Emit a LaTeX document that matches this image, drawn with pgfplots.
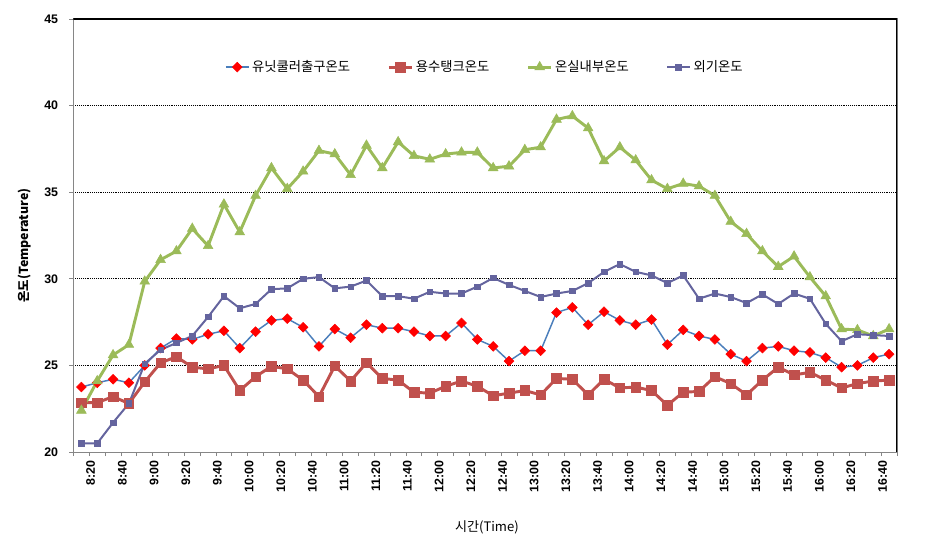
\documentclass[border=0pt]{standalone}
\usepackage{fontspec}
\setmainfont{Liberation Sans}
\newfontfamily\kr{Noto Sans CJK KR}
\usepackage{pgfplots}
\pgfplotsset{compat=1.18}
\definecolor{unitc}{HTML}{4A7EBB}
\definecolor{tankc}{HTML}{C0504D}
\definecolor{greenc}{HTML}{9BBB59}
\definecolor{outc}{HTML}{64649E}
\definecolor{axgray}{HTML}{868686}

\begin{document}
\begin{tikzpicture}
\begin{axis}[
    name=ax,
    scale only axis,
    width=617.6pt, height=324.75pt,
    xmin=-0.5, xmax=51.5,
    ymin=20, ymax=45,
    ytick={20,25,...,45},
    xtick={0,2,...,50},
    xticklabels={8:20,8:40,9:00,9:20,9:40,10:00,10:20,10:40,11:00,11:20,11:40,12:00,12:20,
        12:40,13:00,13:20,13:40,14:00,14:20,14:40,15:00,15:20,15:40,16:00,16:20,16:40},
    minor xtick={-0.5,0.5,...,51.5},
    xtick pos=bottom, ytick pos=left,
    tick align=outside,
    major tick length=3pt, minor tick length=3pt,
    major x tick style={draw=none},
    minor x tick style={axgray, line width=0.6pt},
    major y tick style={axgray, line width=0.6pt},
    axis line style={axgray, line width=0.8pt},
    ymajorgrids,
    major grid style={black, line width=0.7pt, dash pattern=on 0.7pt off 0.7pt},
    /pgf/number format/assume math mode=true,
    ticklabel style={font=\fontsize{9.3pt}{10pt}\selectfont\bfseries},
    xticklabel style={rotate=90, anchor=east, yshift=-7pt},
    yticklabel style={xshift=-5pt},
    xlabel={\kr 시간(Time)},
    xlabel style={font=\fontsize{9.8pt}{11pt}\selectfont, at={(axis description cs:0.502,-0.173)}, anchor=center},
    ylabel={\kr\bfseries 온도(Temperature)},
    ylabel style={font=\fontsize{9.3pt}{11pt}\selectfont, at={(axis description cs:-0.059,0.477)}, anchor=center},
    legend columns=4,
    legend style={draw=none, fill=white, at={(0.5,0.889)}, anchor=center,
        font=\kr\fontsize{10pt}{11pt}\selectfont,
        /tikz/every even column/.append style={column sep=26pt}},
    legend cell align=left,
]
\addplot[unitc, line width=1.1pt, mark=square*, mark size=2.6pt,
    mark options={rotate=45, fill=red, draw=red, line width=0.4pt}] coordinates {
    (0,23.75) (1,24.0) (2,24.2) (3,24.0) (4,25.0) (5,26.0) (6,26.55) (7,26.5) (8,26.8) (9,27.0)
    (10,26.0) (11,26.95) (12,27.6) (13,27.7) (14,27.2) (15,26.1) (16,27.1) (17,26.6) (18,27.35) (19,27.15)
    (20,27.15) (21,26.95) (22,26.7) (23,26.7) (24,27.45) (25,26.5) (26,26.1) (27,25.25) (28,25.85) (29,25.85)
    (30,28.05) (31,28.35) (32,27.35) (33,28.1) (34,27.6) (35,27.35) (36,27.65) (37,26.2) (38,27.05) (39,26.7)
    (40,26.5) (41,25.65) (42,25.25) (43,26.0) (44,26.1) (45,25.85) (46,25.75) (47,25.45) (48,24.9) (49,25.0)
    (50,25.45) (51,25.65)
};
\addplot[tankc, line width=2.2pt, mark=square*, mark size=3.6pt,
    mark options={fill=tankc, draw=tankc, line width=0.4pt}] coordinates {
    (0,22.85) (1,22.85) (2,23.2) (3,22.8) (4,24.05) (5,25.15) (6,25.5) (7,24.9) (8,24.8) (9,25.0)
    (10,23.55) (11,24.35) (12,24.95) (13,24.8) (14,24.15) (15,23.2) (16,24.97) (17,24.1) (18,25.15) (19,24.25)
    (20,24.15) (21,23.45) (22,23.4) (23,23.8) (24,24.1) (25,23.8) (26,23.25) (27,23.4) (28,23.55) (29,23.3)
    (30,24.25) (31,24.2) (32,23.3) (33,24.2) (34,23.7) (35,23.75) (36,23.55) (37,22.7) (38,23.45) (39,23.5)
    (40,24.35) (41,23.95) (42,23.3) (43,24.15) (44,24.9) (45,24.45) (46,24.6) (47,24.15) (48,23.7) (49,23.95)
    (50,24.1) (51,24.15)
};
\addplot[greenc, line width=2.2pt, mark=triangle*, mark size=4.2pt,
    mark options={fill=greenc, draw=greenc, line width=0.4pt}] coordinates {
    (0,22.4) (1,24.1) (2,25.6) (3,26.2) (4,29.85) (5,31.1) (6,31.6) (7,32.9) (8,31.9) (9,34.3)
    (10,32.7) (11,34.8) (12,36.4) (13,35.2) (14,36.2) (15,37.4) (16,37.2) (17,36.0) (18,37.7) (19,36.4)
    (20,37.9) (21,37.1) (22,36.9) (23,37.2) (24,37.3) (25,37.3) (26,36.4) (27,36.5) (28,37.45) (29,37.6)
    (30,39.2) (31,39.4) (32,38.7) (33,36.8) (34,37.6) (35,36.85) (36,35.7) (37,35.2) (38,35.5) (39,35.35)
    (40,34.8) (41,33.3) (42,32.6) (43,31.6) (44,30.7) (45,31.3) (46,30.1) (47,29.0) (48,27.1) (49,27.05)
    (50,26.7) (51,27.1)
};
\addplot[outc, line width=1.5pt, mark=square*, mark size=2.1pt,
    mark options={fill=outc, draw=outc, line width=0.4pt}] coordinates {
    (0,20.5) (1,20.5) (2,21.7) (3,22.8) (4,25.1) (5,25.9) (6,26.3) (7,26.7) (8,27.8) (9,29.0)
    (10,28.3) (11,28.55) (12,29.4) (13,29.45) (14,30.0) (15,30.1) (16,29.45) (17,29.55) (18,29.9) (19,29.0)
    (20,29.0) (21,28.85) (22,29.25) (23,29.15) (24,29.15) (25,29.55) (26,30.05) (27,29.65) (28,29.3) (29,28.95)
    (30,29.15) (31,29.3) (32,29.75) (33,30.4) (34,30.85) (35,30.4) (36,30.2) (37,29.75) (38,30.2) (39,28.85)
    (40,29.15) (41,28.95) (42,28.6) (43,29.1) (44,28.55) (45,29.15) (46,28.85) (47,27.4) (48,26.4) (49,26.8)
    (50,26.75) (51,26.7)
};
\legend{유닛쿨러출구온도, 용수탱크온도, 온실내부온도, 외기온도}
\draw[black, line width=0.8pt] (rel axis cs:0,1) -- (rel axis cs:1,1) -- (rel axis cs:1,0);
\end{axis}
\path ([shift={(-55.1pt,-69.75pt)}]ax.south west) rectangle ([shift={(34.5pt,14.25pt)}]ax.north east);
\end{tikzpicture}
\end{document}
